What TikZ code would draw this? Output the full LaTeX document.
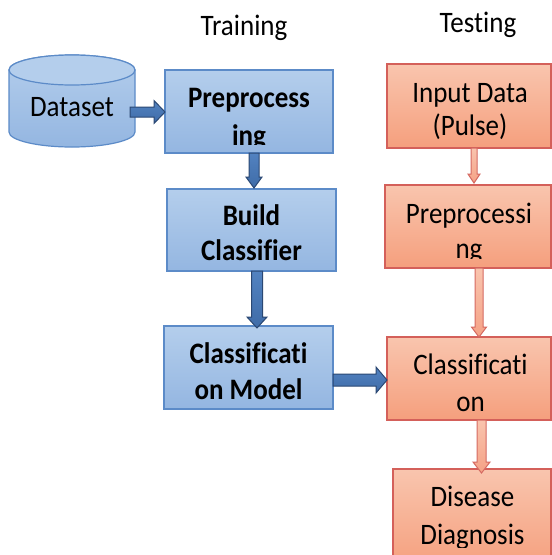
\documentclass[tikz,border=0pt]{standalone}
\usepackage{fontspec}
\setmainfont[Ligatures=NoCommon]{Carlito}
\usetikzlibrary{calc}
\definecolor{bfillT}{HTML}{B4CEEC}
\definecolor{bfillB}{HTML}{94B6E1}
\definecolor{bline}{HTML}{5C8BC8}
\definecolor{baT}{HTML}{5282C0}
\definecolor{baB}{HTML}{3F6CA8}
\definecolor{baline}{HTML}{2B4873}
\definecolor{ofillT}{HTML}{F9C5AE}
\definecolor{ofillB}{HTML}{F59F7D}
\definecolor{oline}{HTML}{D4605A}
\definecolor{oaT}{HTML}{F9C4AE}
\definecolor{oaB}{HTML}{F5A286}
\definecolor{oaline}{HTML}{D56A62}
% vertical (downward) block arrow: style, from, to, half shaft, half head, head length
\newcommand\myDArrow[6]{%
  \draw[#1] let \p1=(#2), \p2=(#3) in
  (\x1-#4pt,\y1) -- (\x1-#4pt,\y2+#6pt) -- (\x1-#5pt,\y2+#6pt) -- (\x1,\y2)
  -- (\x1+#5pt,\y2+#6pt) -- (\x1+#4pt,\y2+#6pt) -- (\x1+#4pt,\y1) -- cycle;}
% horizontal (rightward) block arrow
\newcommand\myRArrow[6]{%
  \draw[#1] let \p1=(#2), \p2=(#3) in
  (\x1,\y1+#4pt) -- (\x2-#6pt,\y1+#4pt) -- (\x2-#6pt,\y1+#5pt) -- (\x2,\y1)
  -- (\x2-#6pt,\y1-#5pt) -- (\x2-#6pt,\y1-#4pt) -- (\x1,\y1-#4pt) -- cycle;}
\begin{document}
\begin{tikzpicture}[x=1pt,y=-1pt,
 bbox/.style={draw=bline, line width=1.2pt, top color=bfillT, bottom color=bfillB, inner sep=0pt, outer sep=0pt, anchor=north west},
 obox/.style={draw=oline, line width=1.2pt, top color=ofillT, bottom color=ofillB, inner sep=0pt, outer sep=0pt, anchor=north west},
 txt/.style={inner sep=0pt, anchor=base, yscale=1.1, transform shape, font=\fontsize{27}{32}\selectfont},
 btxt/.style={txt, font=\fontsize{27}{32}\selectfont\bfseries},
 barrow/.style={draw=baline, line width=1pt, top color=baT, bottom color=baB},
 oarrow/.style={draw=oaline, line width=1pt, top color=oaT, bottom color=oaB}]
\clip (0,0) rectangle (552,555);
\fill[white] (0,0) rectangle (552,555);

% headings
\node[txt] (trn) at (244,35) {Training};
\node[txt] (tst) at (478,32) {Testing};

% dataset cylinder
\path[draw=bline, line width=1.2pt, top color=bfillT, bottom color=bfillB]
  (9,70) -- (9,132) arc(180:0:63 and 15) -- (135,70) arc(0:-180:63 and 15) -- cycle;
\draw[bline, line width=1.2pt, fill=bfillT] (72,70) ellipse (63 and 15);
\node[txt] (ds) at (72,116) {Dataset};
\coordinate (dsR) at (134,112);

% training boxes
\node[bbox, minimum width=168pt, minimum height=83pt] (pre) at (165,70) {};
\node[bbox, minimum width=169pt, minimum height=82pt] (build) at (167,189) {};
\node[bbox, minimum width=169pt, minimum height=83pt] (model) at (164,326) {};

% testing boxes
\node[obox, minimum width=164pt, minimum height=84pt] (inp) at (387,64) {};
\node[obox, minimum width=166pt, minimum height=83pt] (tpre) at (385,185) {};
\node[obox, minimum width=164pt, minimum height=83pt] (tcls) at (387,337) {};
\node[obox, minimum width=158pt, minimum height=100pt] (dis) at (393,469) {};

% texts (clipped like the original)
\begin{scope}
\clip (pre.north west) rectangle ([yshift=9pt]pre.south east);
\node[btxt] (preA) at (249,107) {Preprocess};
\node[btxt] (preB) at (249,145) {ing};
\end{scope}
\begin{scope}
\clip (build.north west) rectangle ([yshift=11pt]build.south east);
\node[btxt] (buildA) at (251.5,225) {Build};
\node[btxt] (buildB) at (251.5,260) {Classifier};
\end{scope}
\begin{scope}
\clip (model.north west) rectangle ([yshift=9pt]model.south east);
\node[btxt] (modelA) at (248.5,363) {Classificati};
\node[btxt] (modelB) at (248.5,399) {on Model};
\end{scope}
\begin{scope}
\clip (inp.north west) rectangle ([yshift=5pt]inp.south east);
\node[txt] (inpA) at (470,102) {Input Data};
\node[txt] (inpB) at (470,135) {(Pulse)};
\end{scope}
\begin{scope}
\clip (tpre.north west) rectangle ([yshift=10pt]tpre.south east);
\node[txt] (tpreA) at (469,223) {Preprocessi};
\node[txt] (tpreB) at (469,258) {ng};
\end{scope}
\begin{scope}
\clip (tcls.north west) rectangle ([yshift=8pt]tcls.south east);
\node[txt] (tclsA) at (470.5,374) {Classificati};
\node[txt] (tclsB) at (470.5,411) {on};
\end{scope}
\begin{scope}
\clip (dis.north west) rectangle (551,547);
\node[txt] (disA) at (472.5,506) {Disease};
\node[txt] (disB) at (472.5,544) {Diagnosis};
\end{scope}

% connectors (block arrows)
\myRArrow{barrow}{[xshift=-4pt]dsR}{pre.west |- dsR}{5}{11.5}{11}
\myDArrow{barrow}{[xshift=5pt]pre.south}{[yshift=1pt]build.north}{5}{8}{11}
\myDArrow{barrow}{[xshift=5.5pt]build.south}{[yshift=-2pt]model.north}{5.5}{10}{11}
\myRArrow{barrow}{[yshift=-12.5pt]model.east}{tcls.west}{6}{13}{11}
\myDArrow{oarrow}{[xshift=5pt]inp.south}{[yshift=2pt]tpre.north}{3}{6}{9}
\myDArrow{oarrow}{[xshift=11pt]tpre.south}{tcls.north}{4}{7.5}{10}
\myDArrow{oarrow}{[xshift=12.5pt]tcls.south}{[yshift=-4pt]dis.north}{4.5}{8.5}{11}
\end{tikzpicture}
\end{document}
